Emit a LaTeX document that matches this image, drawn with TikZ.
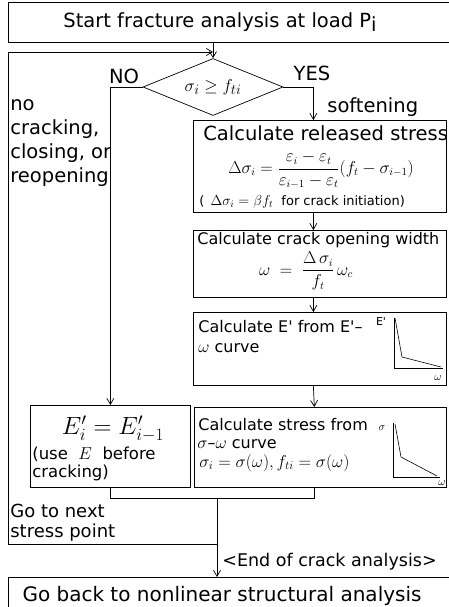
\documentclass[tikz,border=0pt]{standalone}
\usepackage{amsmath}
\usepackage{fontspec}
\setmainfont{DejaVu Sans}
\usetikzlibrary{shapes.geometric,arrows.meta}

\begin{document}
\begin{tikzpicture}[x=1pt, y=-1pt, >={Straight Barb[length=6pt,width=7pt]}, line width=0.7pt]
  \tikzset{box/.style={draw, inner sep=0, anchor=north west},
           txt/.style={inner sep=0, anchor=west, align=left},
           big/.style={font=\fontsize{19.5}{24}\selectfont},
           mid/.style={font=\fontsize{16}{19}\selectfont},
           sml/.style={font=\fontsize{13}{16}\selectfont},
           tiny/.style={inner sep=0, font=\fontsize{11}{13}\selectfont}}
  \useasboundingbox (0,0) rectangle (448,607);

  % start and decision
  \node[box, minimum width=445, minimum height=40] (start) at (8,2) {};
  \node[big, inner sep=0] (starttxt) at (220,22) {Start fracture analysis at load P\raisebox{-0.35ex}{i}};
  \node[draw, diamond, aspect=2.4, minimum width=140, minimum height=57, inner sep=0,
        font=\fontsize{19}{22}\selectfont] (dec) at (213,87) {$\sigma_i \geq f_{ti}$};
  \node[big, inner sep=0] (no) at (124,76) {NO};
  \node[big, inner sep=0] (yes) at (312,73) {YES};
  \node[big, txt] (soft) at (327,107) {softening};
  \node[big, txt] (nocrack) at (10,143) {no\\cracking,\\closing, or\\reopening};

  % softening column
  \node[box, minimum width=253, minimum height=92] (rel) at (193,120) {};
  \node[big, txt] (reltitle) at (203,133) {Calculate released stress};
  \node[inner sep=0, font=\fontsize{16}{19}\selectfont] (releq) at (321,170)
    {$\Delta\sigma_i = \dfrac{\varepsilon_i - \varepsilon_t}{\varepsilon_{i-1} - \varepsilon_t}(f_t - \sigma_{i-1})$};
  \node[sml, txt] (relinit) at (199,202) {( \,{\fontsize{14}{16}\selectfont$\Delta\sigma_i = \beta f_t$}\ \ for crack initiation)};

  \node[box, minimum width=253, minimum height=67] (crk) at (193,230) {};
  \node[mid, txt] (crktitle) at (197,240) {Calculate crack opening width};
  \node[inner sep=0, font=\fontsize{16}{19}\selectfont] (crkeq) at (306,271)
    {$\omega \;=\; \dfrac{\Delta\,\sigma_i}{f_t}\,\omega_c$};

  \node[box, minimum width=253, minimum height=73] (emod) at (193,312) {};
  \node[mid, txt] (emodtitle) at (198,327) {Calculate E\textquotesingle{} from E\textquotesingle{}--};
  \node[mid, txt] (emodcurve) at (198,348) {$\omega$ curve};
  \draw[line width=0.6pt] (394,318) -- (394,368) -- (443,368);
  \draw[line width=0.6pt] (395,318) -- (402,357) -- (441,367);
  \node[tiny] (emodlbl) at (381,321) {E\textquotesingle};
  \node[tiny] (emodw) at (438,378) {$\omega$};

  \node[box, minimum width=252, minimum height=80] (sig) at (194,407) {};
  \node[mid, txt] (sigtitle) at (198,425) {Calculate stress from};
  \node[mid, txt] (sigcurve) at (197,444) {$\sigma$--$\omega$ curve};
  \node[txt, font=\fontsize{16.5}{19}\selectfont] (sigeq) at (199,463) {$\sigma_i = \sigma(\omega), f_{ti} = \sigma(\omega)$};
  \draw[line width=0.6pt] (393,423) -- (393,477) -- (440,477);
  \draw[line width=0.6pt] (395,424) -- (401,457) -- (437,476);
  \node[tiny] (sigs) at (382,428) {$\sigma$};
  \node[tiny] (sigw) at (442,483) {$\omega$};

  % no cracking branch
  \node[box, minimum width=160, minimum height=82] (ebox) at (30,405) {};
  \node[inner sep=0, font=\fontsize{23}{26}\selectfont] (eeq) at (113,429) {$E'_i = E'_{i-1}$};
  \node[txt, font=\fontsize{16.5}{17.5}\selectfont] (enote) at (32,464) {(use \ $E$ \ before\\cracking)};

  % loop and end
  \node[txt, font=\fontsize{18}{20}\selectfont] (gotxt) at (10,523) {Go to next\\stress point};
  \node[txt, font=\fontsize{17.5}{20}\selectfont] (endtxt) at (222,562) {<End of crack analysis>};
  \node[box, minimum width=445, minimum height=40] (back) at (8,577) {};
  \node[inner sep=0, font=\fontsize{20}{24}\selectfont] (backtxt) at (222,596) {Go back to nonlinear structural analysis};

  \coordinate (ret) at (213,52);
  \coordinate (mrg) at (217,498);
  \coordinate (gonext) at (217,544);

  \draw[->] (start.south -| dec.north) -- (dec.north);
  \draw[->] (dec.west) -| (ebox.north);
  \draw[->] (dec.east) -| ([xshift=-6.5]rel.north);
  \draw[->] ([xshift=-6.5]rel.south) -- ([xshift=-6.5]crk.north);
  \draw[->] ([xshift=-6.5]crk.south) -- ([xshift=-6.5]emod.north);
  \draw[->] ([xshift=-6.5]emod.south) -- ([xshift=-6]sig.north);
  \draw (ebox.south) |- (mrg);
  \draw ([xshift=-6]sig.south) |- (mrg);
  \draw[->] (mrg) -- (back.north -| mrg);
  \draw[->] (gonext) -| (start.west |- ret) -- (ret);
\end{tikzpicture}
\end{document}
